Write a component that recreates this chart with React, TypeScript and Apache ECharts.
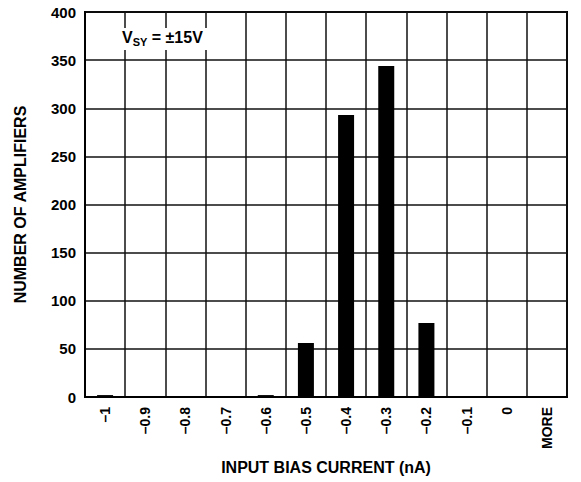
import React, { useEffect, useRef } from "react";
import * as echarts from "echarts";

const categories = ["–1", "–0.9", "–0.8", "–0.7", "–0.6", "–0.5", "–0.4", "–0.3", "–0.2", "–0.1", "0", "MORE"];
const counts = [2, 0, 0, 0, 2, 56, 293, 344, 77, 0, 0, 0];
const yTicks = { min: 0, max: 400, interval: 50 };

const FONT = "Liberation Sans, Arial, sans-serif";

export default function App() {
  const ref = useRef<HTMLDivElement>(null);
  useEffect(() => {
    document.body.style.margin = "0";
    const chart = echarts.init(ref.current!, null, { renderer: "svg" });
    chart.setOption({
      animation: false,
      backgroundColor: "#fff",
      textStyle: { fontFamily: FONT },
      grid: {
        left: 85,
        right: 14,
        top: 12,
        bottom: 85,
        show: true,
        borderColor: "#000",
        borderWidth: 2,
        containLabel: false,
      },
      xAxis: {
        type: "category",
        data: categories,
        boundaryGap: true,
        name: "INPUT BIAS CURRENT (nA)",
        nameLocation: "middle",
        nameGap: 62,
        nameTextStyle: { fontFamily: FONT, fontWeight: "bold", fontSize: 16, color: "#000" },
        axisLine: { show: true, lineStyle: { color: "#000", width: 2 } },
        axisTick: { show: false },
        axisLabel: {
          interval: 0,
          rotate: 90,
          margin: 10,
          fontFamily: FONT,
          fontWeight: "bold",
          fontSize: 14,
          color: "#000",
        },
        splitLine: { show: true, interval: 0, lineStyle: { color: "#111", width: 1.5 } },
      },
      yAxis: {
        type: "value",
        min: yTicks.min,
        max: yTicks.max,
        interval: yTicks.interval,
        name: "NUMBER OF AMPLIFIERS",
        nameLocation: "middle",
        nameGap: 57,
        nameTextStyle: { fontFamily: FONT, fontWeight: "bold", fontSize: 16, color: "#000" },
        axisLine: { show: true, lineStyle: { color: "#000", width: 2 } },
        axisTick: { show: false },
        axisLabel: {
          margin: 9,
          fontFamily: FONT,
          fontWeight: "bold",
          fontSize: 15,
          color: "#000",
        },
        splitLine: { show: true, lineStyle: { color: "#111", width: 1.5 } },
      },
      series: [
        {
          type: "bar",
          data: counts,
          barWidth: 16,
          itemStyle: { color: "#000" },
          z: 3,
        },
      ],
      graphic: [
        {
          type: "rect",
          shape: { x: 119, y: 28, width: 90, height: 22 },
          style: { fill: "#fff" },
          z: 10,
        },
        {
          type: "text",
          x: 122,
          y: 29,
          z: 11,
          style: {
            text: "{v|V}{s|SY}{v| = ±15V}",
            rich: {
              v: { fontFamily: FONT, fontWeight: "bold", fontSize: 16, fill: "#000", lineHeight: 18, verticalAlign: "top" },
              s: { fontFamily: FONT, fontWeight: "bold", fontSize: 11, fill: "#000", lineHeight: 18, verticalAlign: "bottom", padding: [7, 0, 0, 0] },
            },
          },
        },
      ],
    });
    return () => chart.dispose();
  }, []);
  return <div ref={ref} style={{ width: 581, height: 482 }} />;
}
